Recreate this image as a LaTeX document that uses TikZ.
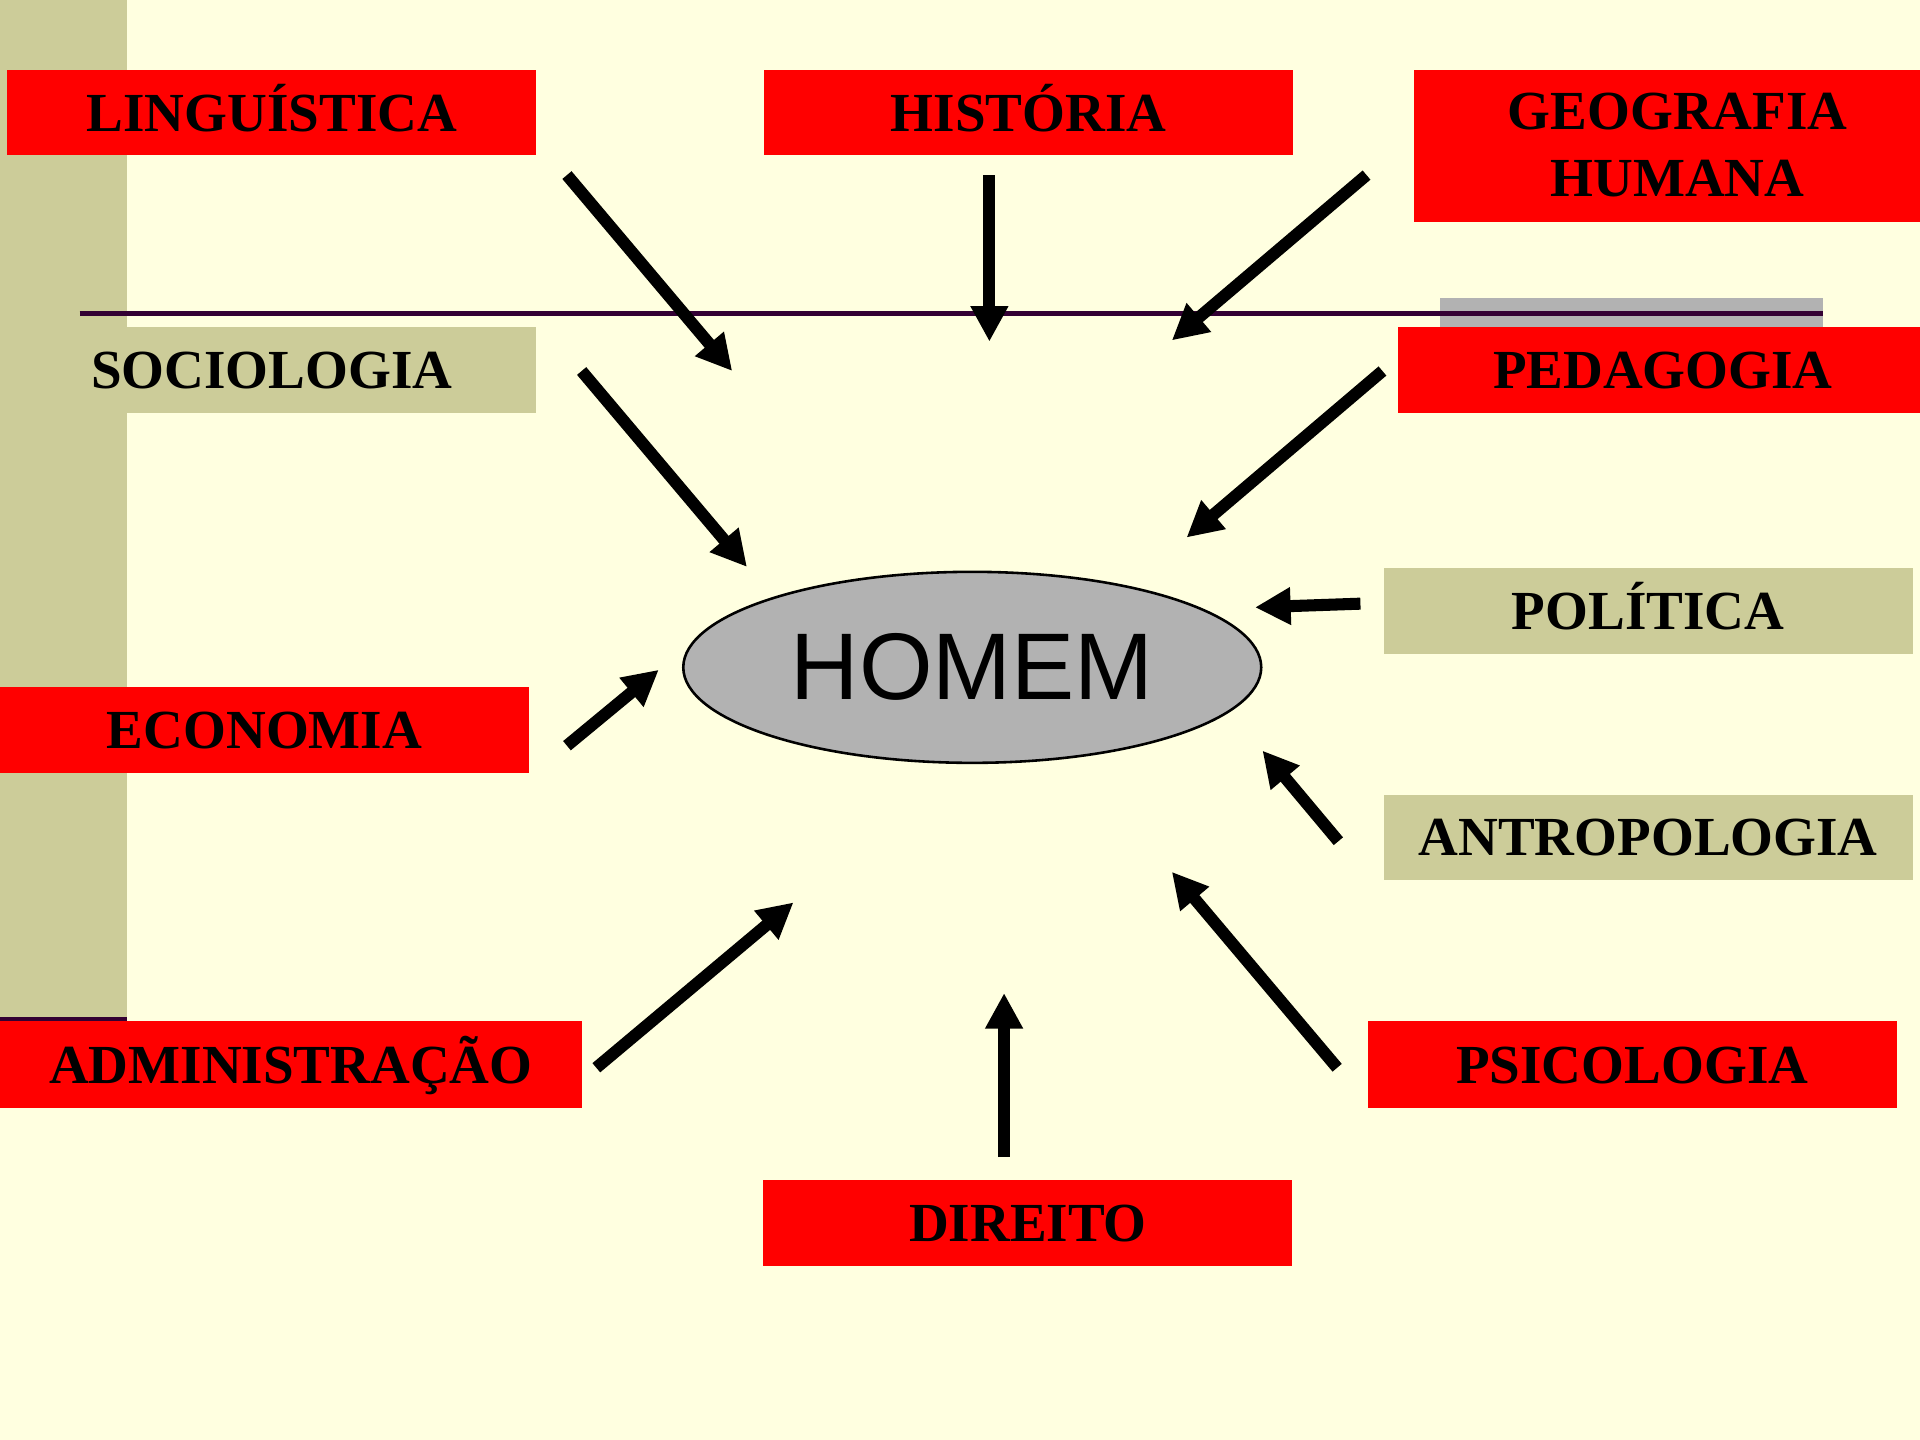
\documentclass[tikz,border=0pt]{standalone}
\usepackage{fontspec}
\setmainfont{Liberation Serif}
\setsansfont{Liberation Sans}
\usetikzlibrary{arrows.meta,shapes.geometric}
\definecolor{bgy}{RGB}{255,255,224}
\definecolor{tanc}{RGB}{204,204,153}
\definecolor{redc}{RGB}{255,0,0}
\definecolor{grayc}{RGB}{178,178,178}
\definecolor{linec}{RGB}{51,0,51}
\tikzset{
  lbl/.style={rectangle, inner sep=0pt, minimum width=4.32cm, minimum height=0.70cm,
    font=\fontsize{12.8}{14.8}\selectfont\bfseries, align=center, text=black,
    text height=0.30cm, text depth=0pt},
  redbox/.style={lbl, fill=redc},
  tanbox/.style={lbl, fill=tanc},
  arr/.style={line width=2.8pt, -{Triangle[length=0.29cm,width=0.29cm]}}
}
\begin{document}
\begin{tikzpicture}
\useasboundingbox (0,0) rectangle (15.68,-11.76);
\clip (0,0) rectangle (15.68,-11.76);
\fill[bgy] (0,0) rectangle (15.68,-11.76);
% left bar
\fill[tanc] (0,0) rectangle (1.04,-8.33);
\draw[linec, line width=0.9pt] (0,-8.32) -- (1.04,-8.32);
% gray strip and rule
\fill[grayc] (11.76,-2.43) rectangle (14.89,-2.67);
\draw[linec, line width=0.95pt] (0.65,-2.56) -- (14.89,-2.56);
% boxes
\node[redbox] (ling) at (2.22,-0.92) {LINGUÍSTICA};
\node[redbox] (hist) at (8.40,-0.92) {HISTÓRIA};
\node[redbox, minimum width=4.30cm, minimum height=1.24cm, text height=, text depth=] (geo) at (13.70,-1.19) {\raisebox{0.02cm}{\shortstack{GEOGRAFIA\\[0.14cm]HUMANA}}};
\node[tanbox] (socio) at (2.22,-3.02) {SOCIOLOGIA};
\node[redbox] (peda) at (13.58,-3.02) {PEDAGOGIA};
\node[tanbox] (poli) at (13.46,-4.99) {POLÍTICA};
\node[redbox] (econ) at (2.16,-5.96) {ECONOMIA};
\node[tanbox] (antro) at (13.46,-6.84) {ANTROPOLOGIA};
\node[redbox, minimum width=4.75cm, minimum height=0.71cm] (admin) at (2.375,-8.695) {ADMINISTRAÇÃO};
\node[redbox, minimum height=0.71cm] (psico) at (13.33,-8.695) {PSICOLOGIA};
\node[redbox] (dir) at (8.395,-9.99) {DIREITO};
% center
\node[ellipse, draw=black, line width=0.6pt, fill=grayc, minimum width=4.72cm, minimum height=1.56cm, inner sep=0pt,
  font=\sffamily\fontsize{22}{26}\selectfont] (homem) at (7.94,-5.45) {HOMEM};
% arrow endpoints
\coordinate (a1s) at (4.63,-1.43); \coordinate (a1e) at (5.98,-3.03);
\coordinate (a2s) at (8.08,-1.43); \coordinate (a2e) at (8.08,-2.79);
\coordinate (a3s) at (11.16,-1.43); \coordinate (a3e) at (9.57,-2.78);
\coordinate (a4s) at (4.75,-3.03); \coordinate (a4e) at (6.10,-4.63);
\coordinate (a5s) at (11.29,-3.03); \coordinate (a5e) at (9.69,-4.39);
\coordinate (a6s) at (11.11,-4.93); \coordinate (a6e) at (10.25,-4.96);
\coordinate (a7s) at (4.63,-6.09); \coordinate (a7e) at (5.38,-5.47);
\coordinate (a8s) at (10.93,-6.87); \coordinate (a8e) at (10.31,-6.13);
\coordinate (a9s) at (4.87,-8.72); \coordinate (a9e) at (6.48,-7.37);
\coordinate (a10s) at (8.20,-9.45); \coordinate (a10e) at (8.20,-8.11);
\coordinate (a11s) at (10.92,-8.72); \coordinate (a11e) at (9.57,-7.12);
\foreach \i in {1,...,11} { \draw[arr] (a\i s) -- (a\i e); }
\end{tikzpicture}
\end{document}
